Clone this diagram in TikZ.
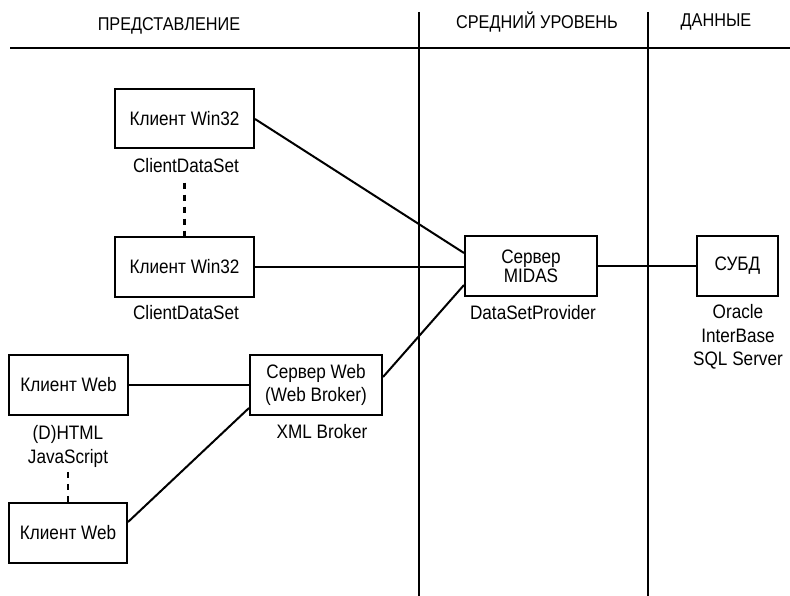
\documentclass[tikz,border=0pt]{standalone}
\usepackage{fontspec}
\setmainfont{Liberation Sans}[FakeStretch=0.88]
\usetikzlibrary{calc}

\tikzset{
  box/.style={draw,line width=2pt,inner sep=0pt,align=center},
  lbl/.style={align=center},
  link/.style={line width=2pt},
  dots/.style={line width=2.6pt,dash pattern=on 6pt off 6pt},
  rule/.style={line width=2.6pt},
  hdr/.style={font=\fontsize{18.5}{20}\selectfont},
}

\begin{document}
\begin{tikzpicture}[x=1pt,y=-1pt,font=\fontsize{19.5}{23.5}\selectfont]
   \useasboundingbox (0,0) rectangle (790,596);
   % column headings and separators
   \node[hdr] (hpres) at (169,26) {ПРЕДСТАВЛЕНИЕ};
   \node[hdr] (hmid)  at (537,22) {СРЕДНИЙ УРОВЕНЬ};
   \node[hdr] (hdata) at (716,22) {ДАННЫЕ};
   \coordinate (rl) at (10,48);   \coordinate (rr) at (790,48);
   \coordinate (c1t) at (419,12); \coordinate (c1b) at (419,596);
   \coordinate (c2t) at (648,12); \coordinate (c2b) at (648,596);
   \draw[rule] (rl) -- (rr);
   \draw[rule] (c1t) -- (c1b);
   \draw[rule] (c2t) -- (c2b);

   % win32 clients
   \node[box,minimum width=139pt,minimum height=59pt] (w1) at (184.5,119) {Клиент Win32};
   \node[lbl] (w1lbl) at (186,166) {ClientDataSet};
   \node[box,minimum width=139pt,minimum height=60pt] (w2) at (184.5,267) {Клиент Win32};
   \node[lbl] (w2lbl) at (186,313) {ClientDataSet};
   \draw[dots] (w1lbl.south -| w1) ++(0,6) coordinate (d1) -- (d1 |- w2.north);

   % middle tier
   \node[box,minimum width=132pt,minimum height=59pt,
         font=\fontsize{19.5}{19}\selectfont] (midas) at (531,266) {Сервер\\MIDAS};
   \node[lbl] (midlbl) at (533,313) {DataSetProvider};

   % database
   \node[box,minimum width=81pt,minimum height=59pt] (db) at (737.5,266) {СУБД};
   \node[lbl] (dblbl) at (738,337) {Oracle\\InterBase\\SQL Server};

   % web clients and web server
   \node[box,minimum width=119pt,minimum height=60pt] (web1) at (68.5,385) {Клиент Web};
   \node[lbl] (web1lbl) at (68,446.5) {(D)HTML\\JavaScript};
   \node[box,minimum width=118pt,minimum height=60pt] (web2) at (68,533) {Клиент Web};
   \draw[dots] (web1lbl.south -| web2) ++(0,1) coordinate (d2) -- (d2 |- web2.north);
   \node[box,minimum width=132pt,minimum height=60pt] (wsrv) at (316,385) {Сервер Web\\(Web Broker)};
   \node[lbl] (wsrvlbl) at (322,432) {XML Broker};

   % links
   \draw[link] (w1.east) -- ([yshift=13pt]midas.west);
   \draw[link] (w2.east) -- (w2.east -| midas.west);
   \draw[link] ([yshift=8pt]wsrv.east) -- ([yshift=-19pt]midas.west);
   \draw[link] (midas.east) -- (db.west);
   \draw[link] (web1.east) -- (web1.east -| wsrv.west);
   \draw[link] ([yshift=11pt]web2.east) -- ([yshift=-23pt]wsrv.west);
\end{tikzpicture}
\end{document}
